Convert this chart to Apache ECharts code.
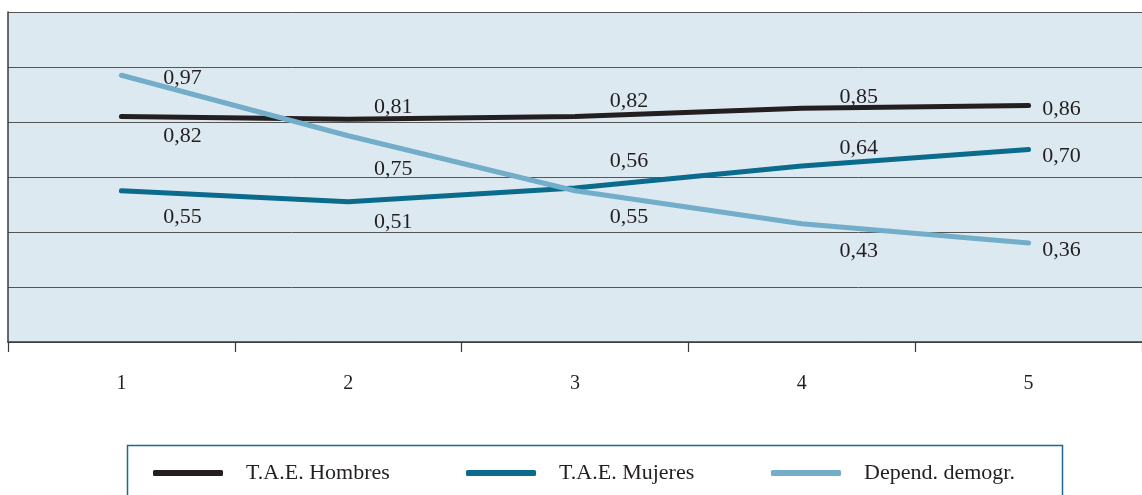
<!DOCTYPE html>
<html>
<head>
<meta charset="utf-8">
<script src="https://cdn.jsdelivr.net/npm/echarts@6/dist/echarts.min.js"></script>
<style>
  html, body { margin: 0; padding: 0; background: #ffffff; }
  #chart { width: 1142px; height: 495px; }
</style>
</head>
<body>
<div id="chart"></div>
<script>
// Categories along the horizontal axis
const categories = ['1', '2', '3', '4', '5'];

// Series values
const hombres = [0.82, 0.81, 0.82, 0.85, 0.86];
const mujeres = [0.55, 0.51, 0.56, 0.64, 0.70];
const dependencia = [0.97, 0.75, 0.55, 0.43, 0.36];

// Series names
const seriesNames = ['T.A.E. Hombres', 'T.A.E. Mujeres', 'Depend. demogr.'];

// Label placement (pixel offsets from each point)
const offsetsHombres = [[61, 20], [45, -12], [54, -15], [57, -11], [33, 4]];
const offsetsMujeres = [[61, 26], [45, 20], [54, -27], [57, -18], [33, 7]];
const offsetsDepend = [[61, 3], [45, 33], [54, 26], [57, 27], [33, 7]];

const FONT = '"Liberation Serif", "DejaVu Serif", serif';
const TEXT = '#231f20';
const colors = ['#231f20', '#0b6b8d', '#72adc9'];

function fmt(v) { return v.toFixed(2).replace('.', ','); }

function buildData(values, offsets) {
  return values.map((v, i) => ({
    value: v,
    label: { offset: offsets[i] }
  }));
}

function lineSeries(name, values, offsets, color) {
  return {
    name: name,
    type: 'line',
    data: buildData(values, offsets),
    symbol: 'circle',
    symbolSize: 0.1,
    itemStyle: { color: color },
    lineStyle: { color: color, width: 5, cap: 'round', join: 'round' },
    label: {
      show: true,
      position: 'inside',
      align: 'center',
      verticalAlign: 'middle',
      color: TEXT,
      fontFamily: FONT,
      fontSize: 22,
      formatter: p => fmt(p.value)
    },
    emphasis: { disabled: true },
    animation: false,
    z: 3
  };
}

function legendItem(name, left, color) {
  return {
    data: [name],
    left: left,
    top: 457,
    orient: 'horizontal',
    icon: 'roundRect',
    itemWidth: 70,
    itemHeight: 6,
    selectedMode: false,
    textStyle: {
      color: TEXT,
      fontFamily: FONT,
      fontSize: 22,
      padding: [0, 0, 0, 18]
    },
    itemStyle: { color: color }
  };
}

const chart = echarts.init(document.getElementById('chart'), null, { renderer: 'canvas' });

chart.setOption({
  backgroundColor: '#ffffff',
  animation: false,
  color: colors,
  grid: {
    left: 8,
    right: -2,
    top: 12,
    bottom: 153,
    show: true,
    backgroundColor: '#dde9f1',
    borderWidth: 0
  },
  xAxis: {
    type: 'category',
    data: categories,
    boundaryGap: true,
    axisLine: { show: true, lineStyle: { color: '#3a3a3a', width: 1.5 } },
    axisTick: { show: true, length: 10, lineStyle: { color: '#3a3a3a', width: 1.2 } },
    axisLabel: { color: TEXT, fontFamily: FONT, fontSize: 20, margin: 32 },
    splitLine: { show: false }
  },
  yAxis: {
    type: 'value',
    min: 0,
    max: 1.2,
    interval: 0.2,
    axisLine: { show: true, lineStyle: { color: '#3a3a3a', width: 1.5 } },
    axisTick: { show: false },
    axisLabel: { show: false },
    splitLine: { show: true, lineStyle: { color: '#555555', width: 1 } }
  },
  legend: [
    legendItem(seriesNames[0], 148, colors[0]),
    legendItem(seriesNames[1], 461, colors[1]),
    legendItem(seriesNames[2], 766, colors[2])
  ],
  graphic: [{
    type: 'rect',
    shape: { x: 127.5, y: 445.5, width: 935, height: 60 },
    style: { fill: 'none', stroke: '#1d6a8a', lineWidth: 1.5 },
    silent: true
  }],
  series: [
    lineSeries(seriesNames[0], hombres, offsetsHombres, colors[0]),
    lineSeries(seriesNames[1], mujeres, offsetsMujeres, colors[1]),
    lineSeries(seriesNames[2], dependencia, offsetsDepend, colors[2])
  ]
});
</script>
</body>
</html>
